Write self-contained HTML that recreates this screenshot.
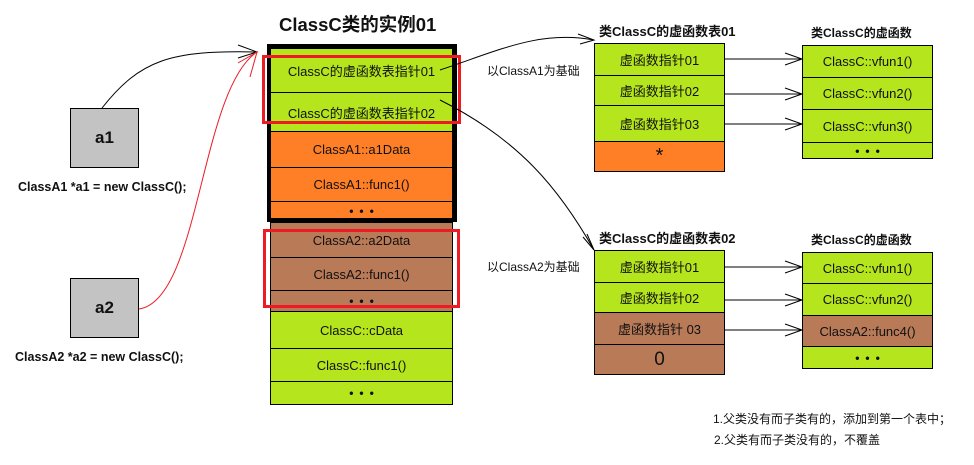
<!DOCTYPE html>
<html><head><meta charset="utf-8"><style>
*{margin:0;padding:0;box-sizing:border-box}
body{width:974px;height:465px;background:#fff;position:relative;overflow:hidden;font-family:"Liberation Sans","Noto Sans CJK SC",sans-serif;color:#111}
.b{position:absolute;border:1px solid #000;display:flex;align-items:center;justify-content:center;font-size:13px}
.g{background:#b5e61d}.o{background:#ff7f27}.r{background:#b97a57}
.t{position:absolute;font-size:12px;white-space:nowrap}
.bold{font-weight:bold}
.d{font-weight:bold;letter-spacing:6px;padding-left:6px;font-size:12px}
.red{position:absolute;border:3px solid #ed1c24}
</style></head><body>
<div class="t bold" style="left:279px;top:11px;font-size:18.5px">ClassC类的实例01</div>
<div class="b g" style="left:270px;top:48px;width:183px;height:45px">ClassC的虚函数表指针01</div>
<div class="b g" style="left:270px;top:92px;width:183px;height:40px">ClassC的虚函数表指针02</div>
<div class="b o" style="left:270px;top:131px;width:183px;height:37px">ClassA1::a1Data</div>
<div class="b o" style="left:270px;top:167px;width:183px;height:35px">ClassA1::func1()</div>
<div class="b o d" style="left:270px;top:201px;width:183px;height:20px">•••</div>
<div style="position:absolute;left:267px;top:44px;width:190px;height:178px;border:4px solid #000"></div>
<div class="b r" style="left:270px;top:222px;width:183px;height:36px">ClassA2::a2Data</div>
<div class="b r" style="left:270px;top:257px;width:183px;height:34px">ClassA2::func1()</div>
<div class="b r d" style="left:270px;top:290px;width:183px;height:22px">•••</div>
<div class="b g" style="left:270px;top:311px;width:183px;height:38px">ClassC::cData</div>
<div class="b g" style="left:270px;top:348px;width:183px;height:34px">ClassC::func1()</div>
<div class="b g d" style="left:270px;top:381px;width:183px;height:24px">•••</div>
<div class="red" style="left:262px;top:55px;width:199px;height:69px"></div>
<div class="red" style="left:263px;top:229px;width:197px;height:79px"></div>
<div class="b bold" style="left:70px;top:108px;width:69px;height:60px;background:#c3c3c3;font-size:17px">a1</div>
<div class="t bold" style="left:18px;top:180px;font-size:12.5px">ClassA1 *a1 = new ClassC();</div>
<div class="b bold" style="left:70px;top:278px;width:69px;height:60px;background:#c3c3c3;font-size:17px">a2</div>
<div class="t bold" style="left:15px;top:350px;font-size:12.5px">ClassA2 *a2 = new ClassC();</div>
<div class="t bold" style="left:599px;top:21px;font-size:13px">类ClassC的虚函数表01</div>
<div class="b g" style="left:594px;top:43px;width:131px;height:33px">虚函数指针01</div>
<div class="b g" style="left:594px;top:75px;width:131px;height:31px">虚函数指针02</div>
<div class="b g" style="left:594px;top:105px;width:131px;height:37px">虚函数指针03</div>
<div class="b o" style="left:594px;top:141px;width:131px;height:31px;font-size:20px">*</div>
<div class="t bold" style="left:811px;top:24px">类ClassC的虚函数</div>
<div class="b g" style="left:802px;top:45px;width:131px;height:33px">ClassC::vfun1()</div>
<div class="b g" style="left:802px;top:77px;width:131px;height:33px">ClassC::vfun2()</div>
<div class="b g" style="left:802px;top:109px;width:131px;height:34px">ClassC::vfun3()</div>
<div class="b g d" style="left:802px;top:142px;width:131px;height:17px">•••</div>
<div class="t" style="left:487px;top:62px">以ClassA1为基础</div>
<div class="t bold" style="left:599px;top:228px;font-size:13px">类ClassC的虚函数表02</div>
<div class="b g" style="left:594px;top:250px;width:131px;height:33px">虚函数指针01</div>
<div class="b g" style="left:594px;top:282px;width:131px;height:31px">虚函数指针02</div>
<div class="b r" style="left:594px;top:312px;width:131px;height:33px">虚函数指针 03</div>
<div class="b r" style="left:594px;top:344px;width:131px;height:31px;font-size:19px">0</div>
<div class="t bold" style="left:811px;top:231px">类ClassC的虚函数</div>
<div class="b g" style="left:802px;top:252px;width:131px;height:32px">ClassC::vfun1()</div>
<div class="b g" style="left:802px;top:283px;width:131px;height:33px">ClassC::vfun2()</div>
<div class="b r" style="left:802px;top:315px;width:131px;height:32px">ClassA2::func4()</div>
<div class="b g d" style="left:802px;top:346px;width:131px;height:23px">•••</div>
<div class="t" style="left:487px;top:258px">以ClassA2为基础</div>
<div class="t" style="left:713px;top:410px">1.父类没有而子类有的，添加到第一个表中；</div>
<div class="t" style="left:714px;top:431px">2.父类有而子类没有的，不覆盖</div>
<svg width="974" height="465" style="position:absolute;left:0;top:0" fill="none">
<g stroke="#000" stroke-width="1">
<path d="M102,108 C140,60 170,50 257,52"/>
<path d="M238,45 L257,52 L238,58"/>
<path d="M440,70 C500,50 540,30 594,40"/>
<path d="M578,34 L594,40 L580,44"/>
<path d="M440,100 C520,140 560,190 594,250"/>
<path d="M583,237 L594,250 L587,234"/>
<path d="M725,59 H802 M785,53 L802,59 L785,65"/>
<path d="M725,94 H802 M785,88 L802,94 L785,100"/>
<path d="M725,124 H802 M785,118 L802,124 L785,130"/>
<path d="M725,267 H802 M785,261 L802,267 L785,273"/>
<path d="M725,300 H802 M785,294 L802,300 L785,306"/>
<path d="M725,330 H802 M785,324 L802,330 L785,336"/>
</g>
<g stroke="#ed1c24" stroke-width="1">
<path d="M139,309 C200,300 200,90 257,52"/>
<path d="M238,63 L257,52 L250,77"/>
</g>
</svg>
</body></html>
